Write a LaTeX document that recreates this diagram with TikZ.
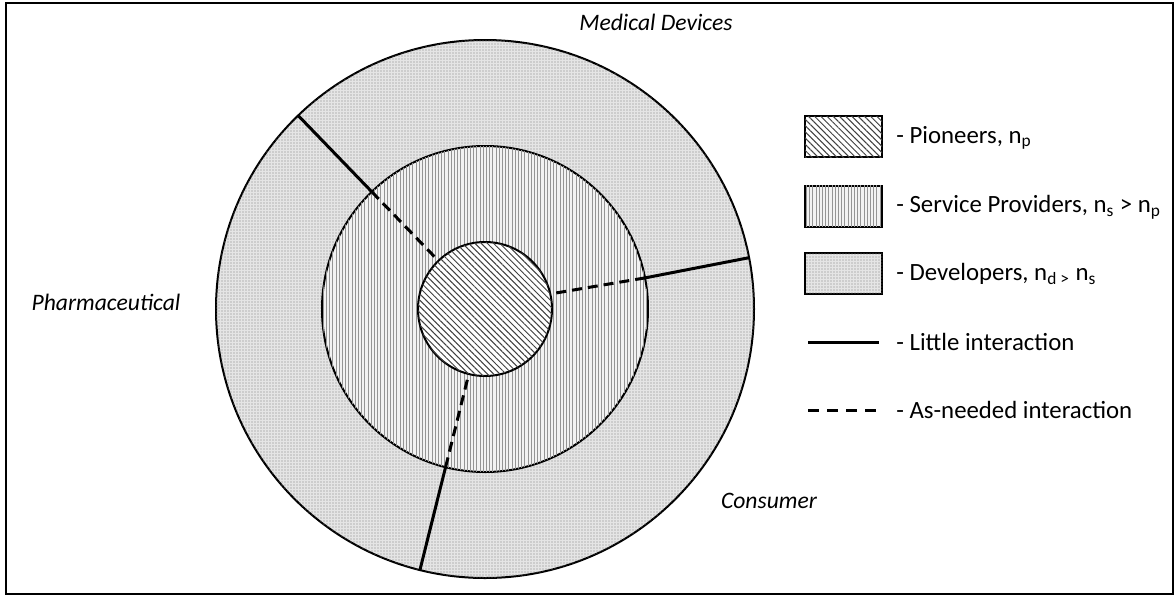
\documentclass[tikz,border=0pt]{standalone}
\usepackage{fontspec}
\setmainfont{Carlito}
\usetikzlibrary{patterns.meta}
\begin{document}
\begin{tikzpicture}[x=0.5pt,y=-0.5pt,
  ring/.style={circle, draw=black, line width=1pt, inner sep=0pt, outer sep=0pt},
  devfill/.style={fill=black!10, postaction={pattern={Dots[distance=1.5pt, radius=0.35pt]}, pattern color=black!50}},
  svcfill/.style={fill=black!5, postaction={pattern={Lines[angle=90, distance=1.6pt, line width=0.35pt]}, pattern color=black!42}},
  piofill/.style={fill=white, postaction={pattern={Lines[angle=-45, distance=2.2pt, line width=0.5pt]}, pattern color=black!75}},
  solidint/.style={line width=1.5pt, line cap=butt},
  dashint/.style={line width=1.5pt, dash pattern=on 5pt off 3pt},
  legbox/.style={rectangle, draw=black, line width=1pt, minimum width=38.5pt, minimum height=20.5pt, inner sep=0pt},
  legtext/.style={anchor=west, font=\fontsize{12.4}{14}\selectfont, inner sep=0pt},
  sector/.style={font=\fontsize{11.8}{13}\selectfont\itshape, inner sep=0pt}
]
\useasboundingbox (0,0) rectangle (1175,596);
\draw[line width=0.9pt] (6,3) rectangle (1173,594);

\node[ring, devfill, minimum size=269pt] (outer) at (485,309) {};
\node[ring, svcfill, minimum size=163pt] (mid) at (485,309) {};
\node[ring, piofill, minimum size=67pt] (core) at (485,309) {};

\draw[solidint] (outer.134.4) -- (mid.134.4);
\draw[dashint] (mid.134.4) -- (core.134);
\draw[solidint] (outer.11.4) -- (mid.11.5);
\draw[dashint] (mid.11.5) -- (core.13);
\draw[solidint] (outer.-104.3) -- (mid.-104.2);
\draw[dashint] (mid.-104.2) -- (core.-104.4);

\node[sector] (md) at (656,22) {Medical Devices};
\node[sector] (ph) at (106,302) {Pharmaceutical};
\node[sector] (co) at (769,501) {Consumer};

\node[legbox, piofill] (lb1) at (843.5,136.5) {};
\node[legbox, svcfill] (lb2) at (843.5,206) {};
\node[legbox, devfill] (lb3) at (843.5,273) {};
\coordinate (ls1) at (808,342);
\coordinate (ls2) at (879,342);
\coordinate (ld1) at (808,410);
\coordinate (ld2) at (880,410);
\draw[solidint] (ls1) -- (ls2);
\draw[line width=1.5pt, dash pattern=on 5.5pt off 4pt] (ld1) -- (ld2);

\node[legtext] (t1) at (896,138) {- Pioneers, n\textsubscript{p}};
\node[legtext] (t2) at (896,207) {- Service Providers, n\textsubscript{s} > n\textsubscript{p}};
\node[legtext] (t3) at (896,274) {- Developers, n\textsubscript{d >} n\textsubscript{s}};
\node[legtext] (t4) at (896,342) {- Little interaction};
\node[legtext] (t5) at (896,410) {- As-needed interaction};
\end{tikzpicture}
\end{document}
